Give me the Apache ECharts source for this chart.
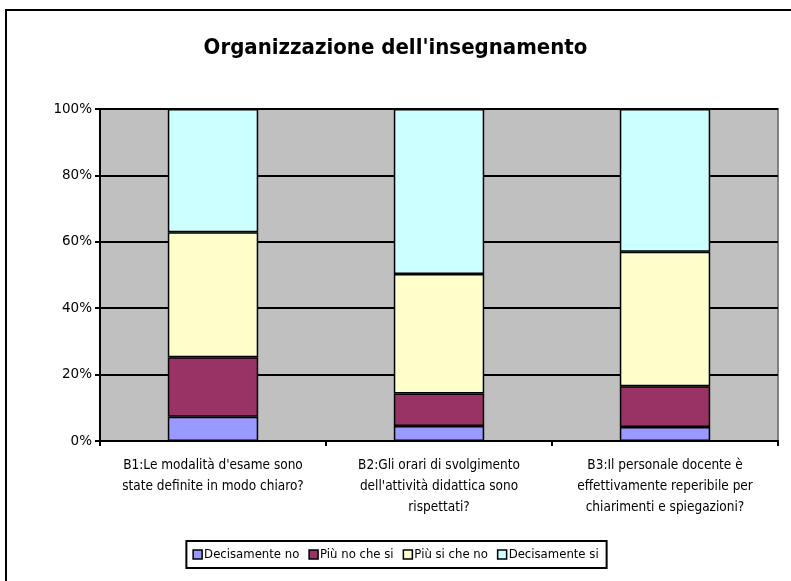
<!DOCTYPE html>
<html>
<head>
<meta charset="utf-8">
<script src="https://cdn.jsdelivr.net/npm/echarts@6/dist/echarts.min.js"></script>
<style>
html,body{margin:0;padding:0;background:#fff;}
#chart{width:791px;height:581px;}
</style>
</head>
<body>
<div id="chart"></div>
<script>
const titleText = "Organizzazione dell'insegnamento";
const categories = [
  "B1:Le modalità d'esame sono\nstate definite in modo chiaro?",
  "B2:Gli orari di svolgimento\ndell'attività didattica sono\nrispettati?",
  "B3:Il personale docente è\neffettivamente reperibile per\nchiarimenti e spiegazioni?"
];
const seriesNames = ["Decisamente no", "Più no che si", "Più si che no", "Decisamente si"];
const decisamenteNo = [7.3, 4.5, 4.2];
const piuNoCheSi = [17.9, 9.8, 12.3];
const piuSiCheNo = [37.7, 36.0, 40.5];
const decisamenteSi = [37.1, 49.7, 43.0];
const colors = ["#9999ff", "#993366", "#ffffcc", "#ccffff"];
const values = [decisamenteNo, piuNoCheSi, piuSiCheNo, decisamenteSi];

const FONT = "'DejaVu Sans Condensed', 'DejaVu Sans', sans-serif";
const chart = echarts.init(document.getElementById('chart'), null, {renderer: 'canvas'});
chart.setOption({
  animation: false,
  backgroundColor: '#fff',
  textStyle: {fontFamily: FONT},
  title: {
    text: titleText,
    left: 'center',
    top: 32,
    textStyle: {fontFamily: FONT, fontSize: 22, fontWeight: 'bold', color: '#000'}
  },
  graphic: [{
    type: 'rect',
    shape: {x: 6, y: 10, width: 820, height: 620},
    style: {fill: 'none', stroke: '#000', lineWidth: 2},
    silent: true,
    z: 100
  }],
  legend: {
    data: seriesNames,
    left: 'center',
    top: 541,
    orient: 'horizontal',
    backgroundColor: '#fff',
    borderColor: '#000',
    borderWidth: 2,
    borderRadius: 0,
    padding: [7, 8, 7, 6],
    itemGap: 9,
    itemWidth: 9,
    itemHeight: 9,
    icon: 'rect',
    textStyle: {fontFamily: FONT, fontSize: 13, color: '#000', padding: [0, 0, 0, -3]},
    itemStyle: {borderColor: '#000', borderWidth: 1.5}
  },
  grid: {
    left: 100, right: 13, top: 109, bottom: 140,
    show: true,
    backgroundColor: '#c0c0c0',
    borderColor: '#808080',
    borderWidth: 2
  },
  xAxis: {
    type: 'category',
    data: categories,
    axisLine: {lineStyle: {color: '#000', width: 2}},
    axisTick: {show: true, length: 5, lineStyle: {color: '#000', width: 2}},
    axisLabel: {color: '#000', fontFamily: FONT, fontSize: 13.5, lineHeight: 21, margin: 14, interval: 0}
  },
  yAxis: {
    type: 'value',
    min: 0, max: 100, interval: 20,
    axisLine: {show: true, lineStyle: {color: '#000', width: 2}},
    axisTick: {show: true, length: 5, lineStyle: {color: '#000', width: 2}},
    axisLabel: {color: '#000', fontFamily: "'DejaVu Sans', sans-serif", fontSize: 13.5, formatter: '{value}%', margin: 8},
    splitLine: {show: true, lineStyle: {color: '#000', width: 2}}
  },
  series: seriesNames.map((name, i) => ({
    name: name,
    type: 'bar',
    stack: 'total',
    barWidth: '40%',
    data: values[i],
    itemStyle: {color: colors[i], borderColor: '#000', borderWidth: 1.5}
  }))
});
</script>
</body>
</html>
